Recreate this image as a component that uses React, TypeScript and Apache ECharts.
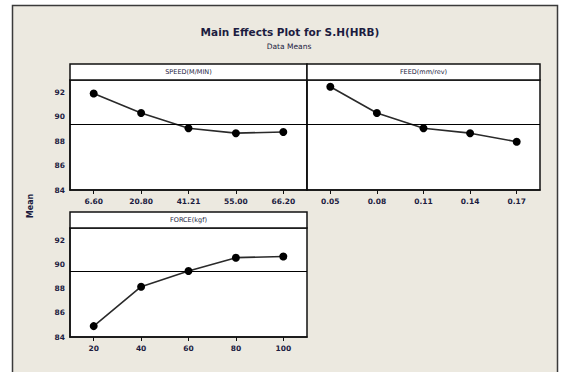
import React, { useEffect, useRef } from "react";
import * as echarts from "echarts";

const speedLevels = ["6.60", "20.80", "41.21", "55.00", "66.20"];
const speedMeans = [91.9, 90.3, 89.05, 88.65, 88.75];
const feedLevels = ["0.05", "0.08", "0.11", "0.14", "0.17"];
const feedMeans = [92.45, 90.3, 89.05, 88.65, 87.95];
const forceLevels = ["20", "40", "60", "80", "100"];
const forceMeans = [84.9, 88.15, 89.45, 90.55, 90.65];
const grandMean = 89.4;
const panelTitles = ["SPEED(M/MIN)", "FEED(mm/rev)", "FORCE(kgf)"];

const FONT = "DejaVu Sans";
const TXT = "#1c1c40";

export default function App() {
  const ref = useRef<HTMLDivElement>(null);
  useEffect(() => {
    if (!ref.current) return;
    const chart = echarts.init(ref.current, null, { renderer: "svg" });
    const grids = [
      { left: 70, top: 80, width: 237, height: 110 },
      { left: 307, top: 80, width: 233, height: 110 },
      { left: 70, top: 228, width: 237, height: 109 },
    ];
    const cats = [speedLevels, feedLevels, forceLevels];
    const vals = [speedMeans, feedMeans, forceMeans];
    const headers = [
      { x: 70, y: 64, w: 237 },
      { x: 307, y: 64, w: 233 },
      { x: 70, y: 212, w: 237 },
    ];
    chart.setOption({
      animation: false,
      backgroundColor: "#ffffff",
      graphic: [
        {
          type: "rect",
          z: -100,
          silent: true,
          shape: { x: 12.5, y: 5.5, width: 545, height: 400 },
          style: { fill: "#ECE9E0", stroke: "#3a3a3a", lineWidth: 1.5 },
        },
        {
          type: "text",
          x: 290,
          y: 32,
          style: {
            text: "Main Effects Plot for S.H(HRB)",
            font: `bold 10.5px ${FONT}`,
            fill: TXT,
            align: "center",
            verticalAlign: "middle",
          },
        },
        {
          type: "text",
          x: 289,
          y: 46,
          style: {
            text: "Data Means",
            font: `7.5px ${FONT}`,
            fill: TXT,
            align: "center",
            verticalAlign: "middle",
          },
        },
        {
          type: "text",
          x: 30,
          y: 206,
          rotation: Math.PI / 2,
          style: {
            text: "Mean",
            font: `bold 8px ${FONT}`,
            fill: TXT,
            align: "center",
            verticalAlign: "middle",
          },
        },
        ...headers.flatMap((h, i) => [
          {
            type: "rect",
            z: 10,
            shape: { x: h.x, y: h.y, width: h.w, height: 16 },
            style: { fill: "#ffffff", stroke: "#111", lineWidth: 1.5 },
          },
          {
            type: "text",
            z: 11,
            x: h.x + h.w / 2,
            y: h.y + 8,
            style: {
              text: panelTitles[i],
              font: `6.5px ${FONT}`,
              fill: TXT,
              align: "center",
              verticalAlign: "middle",
            },
          },
        ]),
      ],
      grid: grids.map((g) => ({
        ...g,
        show: true,
        backgroundColor: "#ffffff",
        borderColor: "#111",
        borderWidth: 1.5,
      })),
      xAxis: cats.map((c, i) => ({
        type: "category",
        gridIndex: i,
        data: c,
        boundaryGap: true,
        axisLine: { show: true, lineStyle: { color: "#111", width: 1.5 } },
        axisTick: { show: true, alignWithLabel: true, length: 4, lineStyle: { color: "#111" } },
        axisLabel: { fontSize: 7.5, fontFamily: FONT, fontWeight: "bold", color: TXT, margin: 7 },
        splitLine: { show: false },
      })),
      yAxis: cats.map((_, i) => ({
        type: "value",
        gridIndex: i,
        min: 84,
        max: 93,
        interval: 2,
        axisLine: { show: true, lineStyle: { color: "#111", width: 1.5 } },
        axisTick: { show: false },
        axisLabel: {
          show: i !== 1,
          fontSize: 7.5,
          fontFamily: FONT,
          fontWeight: "bold",
          color: TXT,
          margin: 5,
          formatter: (v: number) => (v % 2 === 0 ? String(v) : ""),
        },
        splitLine: { show: false },
      })),
      series: vals.map((v, i) => ({
        type: "line",
        xAxisIndex: i,
        yAxisIndex: i,
        data: v,
        symbol: "circle",
        symbolSize: 8,
        itemStyle: { color: "#000" },
        lineStyle: { color: "#2a2a2a", width: 1.6 },
        markLine: {
          silent: true,
          symbol: "none",
          label: { show: false },
          lineStyle: { color: "#000", width: 1.2, type: "solid" },
          data: [{ yAxis: grandMean }],
        },
      })),
    });
    return () => chart.dispose();
  }, []);
  return (
    <div
      ref={ref}
      style={{ position: "absolute", left: 0, top: 0, width: 568, height: 372 }}
    />
  );
}
